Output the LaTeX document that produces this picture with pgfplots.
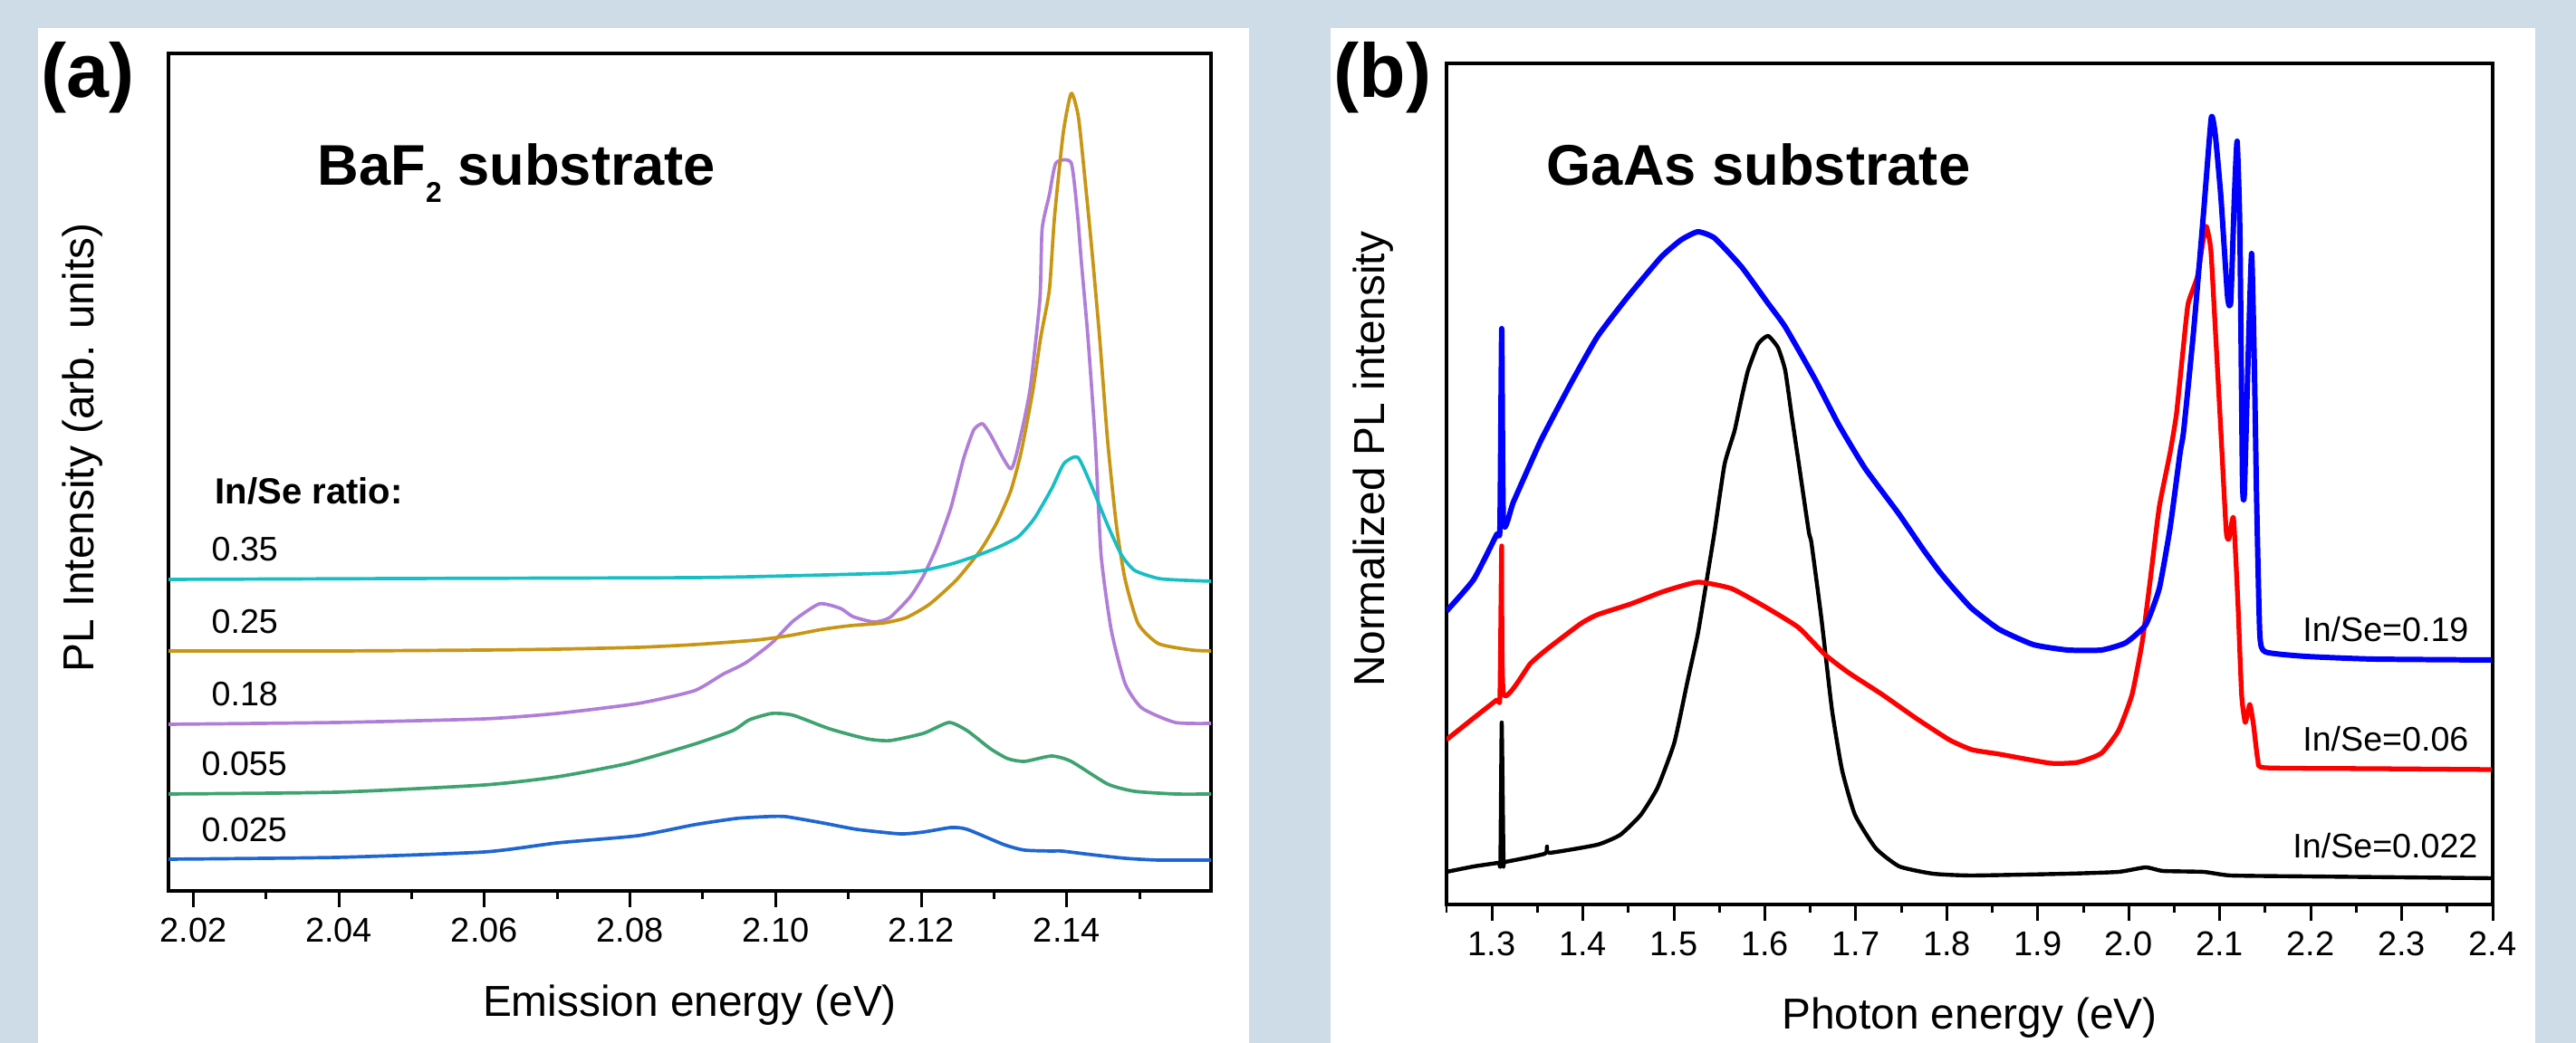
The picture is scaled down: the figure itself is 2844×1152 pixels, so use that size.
\documentclass[border=0pt]{standalone}
\usepackage{pgfplots}
\pgfplotsset{compat=1.18}
\usepackage{fontspec}
\setmainfont{Liberation Sans}

\definecolor{bgpanel}{RGB}{206,220,232}
\definecolor{cA}{RGB}{30,102,210}
\definecolor{cB}{RGB}{62,163,112}
\definecolor{cC}{RGB}{176,126,216}
\definecolor{cD}{RGB}{200,150,20}
\definecolor{cE}{RGB}{23,190,196}

\pgfplotsset{
  panel/.style={
    scale only axis,
    axis line style={line width=1pt},
    ytick=\empty,
    xtick pos=left,
    tick align=outside,
    major tick length=1.8mm,
    minor tick length=0.95mm,
    every tick/.style={line width=0.85pt, black},
    tick label style={font=\fontsize{10.8}{12}\selectfont},
    /pgf/number format/assume math mode=true,
    label style={font=\fontsize{13.6}{16}\selectfont},
    clip=true,
  },
}
\newcommand{\vfont}{\fontsize{10.7}{12}\selectfont}

\begin{document}
\begin{tikzpicture}[x=0.1mm,y=0.1mm]
\useasboundingbox (0,0) rectangle (2844,1152);
\fill[bgpanel] (0,0) rectangle (2844,1152);
\fill[white] (42,0) rectangle (1379,1121);
\fill[white] (1469,0) rectangle (2799,1121);

% ---------------- panel (a) ----------------
\begin{axis}[panel,
  at={(18.6mm,16.8mm)}, width=115.1mm, height=92.5mm,
  xmin=2.0166, xmax=2.1598, ymin=0, ymax=925,
  xtick={2.02,2.04,2.06,2.08,2.10,2.12,2.14},
  minor xtick={2.03,2.05,2.07,2.09,2.11,2.13,2.15},
  xticklabel style={/pgf/number format/.cd,fixed,fixed zerofill,precision=2},
  xlabel={Emission energy (eV)},
  ylabel={PL Intensity (arb. units)},
  x label style={at={(axis description cs:0.5,-0.1492)}, anchor=base},
  y label style={at={(axis description cs:-0.0721,0.529)}, anchor=base},
  every axis plot/.append style={line width=1.05pt, line join=round, smooth, tension=0.35},
]
% In/Se = 0.025
\addplot[cA] coordinates {
(2.0166,35)(2.0397,37)(2.0600,43)(2.0700,53)(2.0811,61)(2.0888,73)
(2.0946,80)(2.0987,82)(2.1014,82)(2.1065,75)(2.1111,68)(2.1171,63)
(2.1203,65)(2.1241,70)(2.1263,68)(2.1314,51)(2.1342,45)(2.1379,44)
(2.1393,44)(2.1434,40)(2.1480,36)(2.1526,34)(2.1599,34)};
% In/Se = 0.055
\addplot[cB] coordinates {
(2.0166,107)(2.0397,109)(2.0600,117)(2.0700,126)(2.0798,141)(2.0888,162)
(2.0941,177)(2.0964,189)(2.0995,196)(2.1024,194)(2.1074,179)(2.1125,168)
(2.1157,166)(2.1203,174)(2.1238,186)(2.1263,177)(2.1295,157)(2.1319,146)
(2.1342,143)(2.1379,149)(2.1406,143)(2.1456,118)(2.1493,110)(2.1549,107)
(2.1599,107)};
% In/Se = 0.18
\addplot[cC] coordinates {
(2.0166,184)(2.0397,186)(2.0600,190)(2.0700,196)(2.0811,207)(2.0888,221)
(2.0927,239)(2.0959,252)(2.0995,274)(2.1024,298)(2.1060,317)(2.1089,312)
(2.1106,303)(2.1135,297)(2.1157,302)(2.1185,325)(2.1203,348)(2.1222,381)
(2.1241,424)(2.1258,477)(2.1272,509)(2.1284,516)(2.1295,504)(2.1323,466)
(2.1337,504)(2.1350,557)(2.1363,654)(2.1366,731)(2.1376,769)(2.1385,804)
(2.1406,804)(2.1415,744)(2.1420,694)(2.1429,611)(2.1439,497)(2.1447,371)
(2.1461,288)(2.1480,229)(2.1503,202)(2.1549,186)(2.1599,185)};
% In/Se = 0.25
\addplot[cD] coordinates {
(2.0166,265)(2.0397,265)(2.0600,266)(2.0700,267)(2.0811,269)(2.0888,272)
(2.0973,277)(2.1019,282)(2.1065,289)(2.1103,293)(2.1149,296)(2.1180,302)
(2.1212,317)(2.1249,344)(2.1282,377)(2.1304,407)(2.1323,442)(2.1337,484)
(2.1353,551)(2.1364,611)(2.1376,664)(2.1383,744)(2.1395,837)(2.1406,881)
(2.1416,854)(2.1426,777)(2.1434,711)(2.1445,611)(2.1456,497)(2.1468,404)
(2.1480,344)(2.1498,295)(2.1526,273)(2.1572,266)(2.1599,265)};
% In/Se = 0.35
\addplot[cE] coordinates {
(2.0166,344)(2.0489,345)(2.0888,346)(2.1019,348)(2.1157,351)(2.1203,354)
(2.1241,361)(2.1272,369)(2.1304,379)(2.1333,391)(2.1355,411)(2.1379,444)
(2.1396,472)(2.1415,479)(2.1434,447)(2.1456,404)(2.1475,371)(2.1493,354)
(2.1526,345)(2.1563,343)(2.1599,342)};
\end{axis}

% ---------------- panel (b) ----------------
\begin{axis}[panel,
  at={(159.7mm,15.3mm)}, width=115.5mm, height=92.9mm,
  xmin=1.25, xmax=2.4, ymin=0, ymax=929,
  xtick={1.3,1.4,1.5,1.6,1.7,1.8,1.9,2.0,2.1,2.2,2.3,2.4},
  minor xtick={1.25,1.35,1.45,1.55,1.65,1.75,1.85,1.95,2.05,2.15,2.25,2.35},
  xticklabel style={/pgf/number format/.cd,fixed,fixed zerofill,precision=1},
  xlabel={Photon energy (eV)},
  ylabel={Normalized PL intensity},
  x label style={at={(axis description cs:0.5,-0.1485)}, anchor=base},
  y label style={at={(axis description cs:-0.0589,0.5296)}, anchor=base},
  every axis plot/.append style={line join=round, smooth, tension=0.3},
]
% In/Se = 0.022
\addplot[black, line width=1.25pt] coordinates {
(1.2500,36)(1.2799,42)(1.3067,46)(1.3092,47)(1.3107,201)(1.3127,47)
(1.3147,47)(1.3580,56)(1.3605,64)(1.3630,57)(1.4158,66)(1.4411,77)
(1.4636,99)(1.4820,129)(1.5005,179)(1.5148,246)(1.5263,299)(1.5373,366)
(1.5447,412)(1.5556,486)(1.5666,523)(1.5745,560)(1.5815,590)(1.5925,619)
(1.6034,628)(1.6144,615)(1.6223,590)(1.6293,541)(1.6368,490)(1.6482,412)
(1.6512,399)(1.6621,316)(1.6736,216)(1.6847,149)(1.6990,99)(1.7219,62)
(1.7478,42)(1.7846,34)(1.8274,32)(1.9329,34)(1.9887,36)(2.0186,41)
(2.0375,37)(2.0822,36)(2.1121,32)(2.1948,31)(2.3988,29)};
% In/Se = 0.06
\addplot[red, line width=1.5pt] coordinates {
(1.2500,182)(1.2799,206)(1.3053,226)(1.3087,229)(1.3107,396)(1.3127,232)
(1.3421,266)(1.3605,282)(1.3973,310)(1.4158,320)(1.4526,332)(1.4894,346)
(1.5263,356)(1.5631,349)(1.5999,329)(1.6368,306)(1.6661,276)(1.6920,256)
(1.7288,232)(1.7657,206)(1.8025,182)(1.8274,171)(1.8579,166)(1.9140,156)
(1.9439,157)(1.9698,167)(1.9887,192)(2.0036,232)(2.0151,292)(2.0245,366)
(2.0335,439)(2.0454,499)(2.0524,542)(2.0603,619)(2.0653,664)(2.0753,693)
(2.0812,730)(2.0852,749)(2.0902,723)(2.0952,634)(2.1012,523)(2.1071,412)
(2.1101,404)(2.1151,427)(2.1200,332)(2.1240,232)(2.1280,201)(2.1330,221)
(2.1370,199)(2.1420,159)(2.1500,151)(2.2694,150)(2.3988,149)};
% In/Se = 0.19
\addplot[blue, line width=1.7pt] coordinates {
(1.2500,324)(1.2799,359)(1.3053,409)(1.3087,416)(1.3107,636)(1.3127,421)
(1.3237,445)(1.3535,512)(1.3864,575)(1.4158,627)(1.4491,671)(1.4859,715)
(1.5078,734)(1.5263,743)(1.5447,736)(1.5745,704)(1.6034,664)(1.6223,638)
(1.6552,580)(1.6811,530)(1.7099,482)(1.7468,432)(1.7727,394)(1.7916,368)
(1.8065,350)(1.8274,327)(1.8573,304)(1.8951,287)(1.9329,281)(1.9698,281)
(1.9966,289)(2.0186,309)(2.0335,349)(2.0454,416)(2.0564,499)(2.0603,523)
(2.0713,634)(2.0822,764)(2.0907,869)(2.0952,849)(2.1012,782)(2.1086,671)
(2.1121,666)(2.1161,782)(2.1191,843)(2.1221,745)(2.1250,468)(2.1270,453)
(2.1310,597)(2.1350,719)(2.1380,597)(2.1405,449)(2.1440,299)(2.1500,279)
(2.1948,274)(2.2694,271)(2.3988,270)};
\end{axis}

% ---------------- annotations ----------------
\node[anchor=base west, inner sep=0, font=\fontsize{24}{26}\selectfont\bfseries] at (45,1044) {(a)};
\node[anchor=base west, inner sep=0, font=\fontsize{24}{26}\selectfont\bfseries] at (1472,1044) {(b)};
\node[anchor=base west, inner sep=0, font=\fontsize{18}{20}\selectfont\bfseries] at (350,947)
  {BaF\raisebox{-5.4pt}{\fontsize{9}{9}\selectfont 2} substrate};
\node[anchor=base west, inner sep=0, font=\fontsize{18}{20}\selectfont\bfseries] at (1707,947) {GaAs substrate};
\node[anchor=base west, inner sep=0, font=\fontsize{11.4}{13}\selectfont\bfseries] at (237,595) {In/Se ratio:};
\node[anchor=base west, inner sep=0, font=\vfont] at (233,532) {0.35};
\node[anchor=base west, inner sep=0, font=\vfont] at (233,452) {0.25};
\node[anchor=base west, inner sep=0, font=\vfont] at (233,372) {0.18};
\node[anchor=base west, inner sep=0, font=\vfont] at (222,295) {0.055};
\node[anchor=base west, inner sep=0, font=\vfont] at (222,222) {0.025};
\node[anchor=base east, inner sep=0, font=\vfont] at (2726,443) {In/Se=0.19};
\node[anchor=base east, inner sep=0, font=\vfont] at (2726,322) {In/Se=0.06};
\node[anchor=base east, inner sep=0, font=\vfont] at (2736,204) {In/Se=0.022};
\end{tikzpicture}
\end{document}
